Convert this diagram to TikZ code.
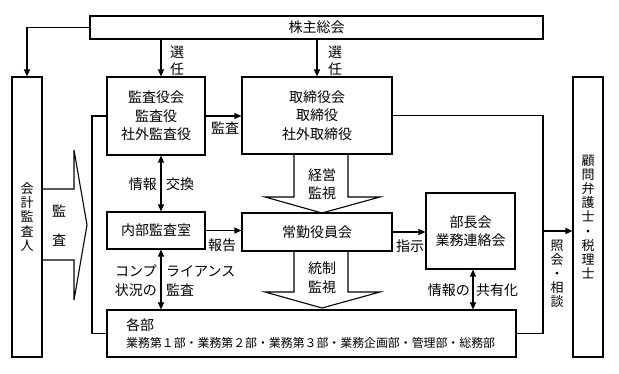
\documentclass[tikz,border=0pt]{standalone}
\usepackage{fontspec}
\newfontfamily\jp{Noto Sans CJK JP}
\usetikzlibrary{arrows.meta}
\begin{document}
\begin{tikzpicture}[x=1pt,y=-1pt,
  box/.style={draw, line width=1.1pt, inner sep=0pt, align=center, font=\jp\fontsize{14}{18.5}\selectfont},
  vbox/.style={draw, line width=1.1pt, inner sep=0pt, align=center, font=\jp\fontsize{13}{14.2}\selectfont},
  lbl/.style={inner sep=0pt, font=\jp\fontsize{14}{17}\selectfont, align=center},
  vlbl/.style={inner sep=0pt, font=\jp\fontsize{13}{14}\selectfont, align=center},
  ln/.style={line width=1.1pt},
  arr/.style={line width=1.1pt, -{Triangle[length=7pt,width=6pt]}},
  darr/.style={line width=1.1pt, {Triangle[length=7pt,width=6pt]}-{Triangle[length=7pt,width=6pt]}},
  blk/.style={line width=1.1pt, line join=miter}]
\useasboundingbox (0,0) rectangle (619,374);

% boxes
\node[box, minimum width=453pt, minimum height=23pt] (kabu) at (316.5,27.5) {株主総会};
\node[vbox, minimum width=30pt, minimum height=280pt] (kaikei) at (27,217) {会\\計\\監\\査\\人};
\node[vbox, minimum width=30pt, minimum height=280pt] (komon) at (588,217) {顧\\問\\弁\\護\\士\\・\\税\\理\\士};
\node[box, minimum width=98pt, minimum height=78pt] (kansa) at (156,116) {監査役会\\監査役\\社外監査役};
\node[box, minimum width=150pt, minimum height=77pt] (tori) at (317,115.5) {取締役会\\取締役\\社外取締役};
\node[box, minimum width=98pt, minimum height=37pt] (naibu) at (156,230.5) {内部監査室};
\node[box, minimum width=150pt, minimum height=38pt] (joukin) at (317,232) {常勤役員会};
\node[box, minimum width=89pt, minimum height=76pt] (bucho) at (470.5,231) {部長会\\業務連絡会};
\node[box, minimum width=409pt, minimum height=47pt] (kakubu) at (311.5,333.5) {};
\node[lbl, anchor=west] (kakubu1) at (126,325) {各部};
\node[inner sep=0pt, anchor=west, font=\jp\fontsize{11.9}{14}\selectfont] (kakubu2) at (126,343) {業務第１部・業務第２部・業務第３部・業務企画部・管理部・総務部};

% helper coordinates
\coordinate (c1) at (161,0);
\coordinate (c2) at (473,0);
\coordinate (cl) at (92,0);
\coordinate (cr) at (543,0);
\coordinate (ca) at (543,231);

% connectors
\draw[arr] (kabu.west) -| (kaikei.north);
\draw[arr] (kabu.south -| c1) -- (kansa.north -| c1);
\draw[arr] (kabu.south -| tori.north) -- (tori.north);
\draw[arr] (kansa.east) -- (kansa.east -| tori.west);
\draw[arr] (naibu.east) -- (naibu.east -| joukin.west);
\draw[arr] (joukin.east) -- (joukin.east -| bucho.west);
\draw[darr] (kansa.south -| c1) -- (naibu.north -| c1);
\draw[darr] (naibu.south -| c1) -- (kakubu.north -| c1);
\draw[darr] (bucho.south -| c2) -- (kakubu.north -| c2);
\draw[ln] (kansa.west) -| (cl |- kakubu.west) -- (kakubu.west);
\draw[ln] (tori.east) -| (cr |- kakubu.east) -- (kakubu.east);
\draw[arr] (ca) -- (ca -| komon.west);

% block arrows
\draw[blk] (42,189) -- (74,189) -- (74,150) -- (87,225) -- (74,300) -- (74,260) -- (42,260);
\draw[blk] (294,154) -- (294,197) -- (265,197) -- (322,213) -- (380,197) -- (348,197) -- (348,154);
\draw[blk] (294,251) -- (294,292) -- (265,292) -- (322,308) -- (380,292) -- (348,292) -- (348,251);

% labels
\node[lbl] (l1) at (59,211) {監};
\node[lbl] (l2) at (59,240) {査};
\node[lbl] (l3) at (322,175) {経営};
\node[lbl] (l4) at (322,193) {監視};
\node[lbl] (l5) at (322,268) {統制};
\node[lbl] (l6) at (322,287) {監視};
\node[lbl] (l7) at (177,52) {選};
\node[lbl] (l8) at (177,69) {任};
\node[lbl] (l9) at (335,52) {選};
\node[lbl] (l10) at (335,69) {任};
\node[lbl] (l11) at (225,128) {監査};
\node[lbl] (l12) at (222,245) {報告};
\node[lbl] (l13) at (410,246) {指示};
\node[lbl, anchor=east] (l14) at (157,184) {情報};
\node[lbl, anchor=west] (l15) at (166,184) {交換};
\node[lbl, anchor=east] (l16) at (157,271) {コンプ};
\node[lbl, anchor=west] (l17) at (166,271) {ライアンス};
\node[lbl, anchor=east] (l18) at (157,290) {状況の};
\node[lbl, anchor=west] (l19) at (166,290) {監査};
\node[lbl, anchor=east] (l20) at (470,290) {情報の};
\node[lbl, anchor=west] (l21) at (476,290) {共有化};
\node[vlbl] (l22) at (557,274) {照\\会\\・\\相\\談};
\end{tikzpicture}
\end{document}
